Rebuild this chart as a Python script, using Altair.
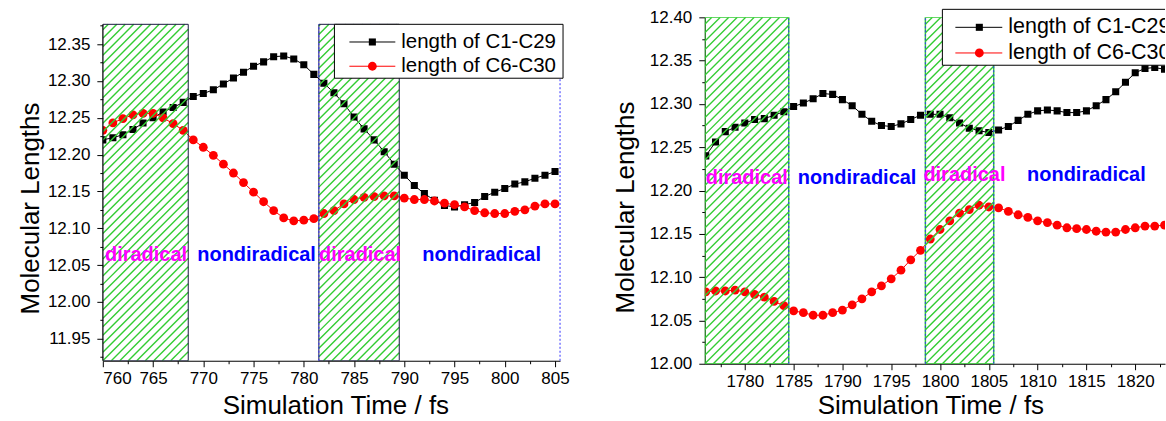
import altair as alt
import pandas as pd
import numpy as np

# ---------------- data ----------------
SERIES = ["length of C1-C29", "length of C6-C30"]

# left panel (760-805 fs)
TIME_A = list(range(760, 806))
C1C29_A = [12.220, 12.223, 12.227, 12.234, 12.243, 12.250, 12.258, 12.264, 12.271, 12.279,
           12.283, 12.288, 12.296, 12.304, 12.312, 12.320, 12.326, 12.333, 12.334, 12.330,
           12.322, 12.309, 12.297, 12.284, 12.269, 12.251, 12.235, 12.220, 12.204, 12.187,
           12.172, 12.158, 12.147, 12.138, 12.131, 12.129, 12.132, 12.135, 12.143, 12.149,
           12.154, 12.160, 12.163, 12.168, 12.172, 12.177]
C6C30_A = [12.233, 12.243, 12.249, 12.254, 12.256, 12.256, 12.250, 12.242, 12.233, 12.220,
           12.210, 12.199, 12.187, 12.175, 12.162, 12.149, 12.136, 12.124, 12.114, 12.110,
           12.111, 12.113, 12.120, 12.124, 12.133, 12.139, 12.142, 12.143, 12.144, 12.144,
           12.141, 12.139, 12.139, 12.137, 12.134, 12.132, 12.129, 12.124, 12.121, 12.120,
           12.120, 12.123, 12.125, 12.130, 12.133, 12.133]
REGIONS_A = [(760.0, 768.5), (781.5, 789.5)]
LABELS_A = ["diradical", "nondiradical", "diradical", "nondiradical"]
LABEL_X_A = [764.3, 775.3, 785.6, 797.7]
LABEL_Y_A = [12.055, 12.055, 12.055, 12.055]
XDOM_A = [760.0, 805.5]
YDOM_A = [11.92, 12.3865]
REGION_TOP_A = 12.377
XMAJOR_A = [760, 765, 770, 775, 780, 785, 790, 795, 800, 805]
XMINOR_A = [762.5, 767.5, 772.5, 777.5, 782.5, 787.5, 792.5, 797.5, 802.5]
YMAJOR_A = [11.95, 12.00, 12.05, 12.10, 12.15, 12.20, 12.25, 12.30, 12.35]
YMINOR_A = [11.925, 11.975, 12.025, 12.075, 12.125, 12.175, 12.225, 12.275, 12.325, 12.375]

# right panel (1776-1823 fs)
TIME_B = list(range(1776, 1824))
C1C29_B = [12.240, 12.256, 12.268, 12.273, 12.278, 12.282, 12.283, 12.287, 12.291, 12.297,
           12.301, 12.306, 12.312, 12.311, 12.305, 12.298, 12.288, 12.280, 12.275, 12.274,
           12.277, 12.282, 12.287, 12.288, 12.288, 12.284, 12.278, 12.272, 12.269, 12.267,
           12.270, 12.274, 12.281, 12.288, 12.292, 12.293, 12.292, 12.290, 12.290, 12.292,
           12.298, 12.305, 12.314, 12.325, 12.336, 12.341, 12.342, 12.340]
C6C30_B = [12.083, 12.084, 12.084, 12.085, 12.083, 12.080, 12.077, 12.072, 12.067, 12.061,
           12.059, 12.056, 12.056, 12.059, 12.062, 12.068, 12.075, 12.083, 12.090, 12.098,
           12.108, 12.120, 12.131, 12.144, 12.155, 12.165, 12.174, 12.178, 12.183, 12.181,
           12.180, 12.176, 12.172, 12.169, 12.165, 12.163, 12.160, 12.157, 12.156, 12.155,
           12.153, 12.152, 12.152, 12.155, 12.157, 12.159, 12.159, 12.160]
REGIONS_B = [(1775.9, 1784.5), (1798.5, 1805.5)]
LABELS_B = ["diradical", "nondiradical", "diradical", "nondiradical"]
LABEL_X_B = [1780.2, 1791.5, 1802.5, 1815.0]
LABEL_Y_B = [12.207, 12.207, 12.211, 12.211]
XDOM_B = [1775.9, 1823.05]
YDOM_B = [12.00, 12.40]
REGION_TOP_B = 12.40
XMAJOR_B = [1780, 1785, 1790, 1795, 1800, 1805, 1810, 1815, 1820]
XMINOR_B = [1777.5, 1782.5, 1787.5, 1792.5, 1797.5, 1802.5, 1807.5, 1812.5, 1817.5, 1822.5]
YMAJOR_B = [12.00, 12.05, 12.10, 12.15, 12.20, 12.25, 12.30, 12.35, 12.40]
YMINOR_B = [12.025, 12.075, 12.125, 12.175, 12.225, 12.275, 12.325, 12.375]

LABEL_COLORS = ["#FF00FF", "#0000FF", "#FF00FF", "#0000FF"]

# ---------------- styling ----------------
FONT = "Liberation Sans"
COLORS = ["#000000", "#FF0000"]
SHAPES = ["square", "circle"]
SIZES = [50, 78]
HATCH = "#33CC33"
DOT_BLUE = "#3333FF"


def hatch_df(regions, lo, hi, xdom, ydom, W, H, spacing=8.5):
    sx = W / (xdom[1] - xdom[0])
    sy = H / (ydom[1] - ydom[0])
    rows = []
    for a, b in regions:
        u0 = (a - xdom[0]) * sx
        u1 = (b - xdom[0]) * sx
        w0 = (lo - ydom[0]) * sy
        w1 = (hi - ydom[0]) * sy
        kmin = int(np.ceil((w0 - u1) / spacing))
        kmax = int(np.floor((w1 - u0) / spacing))
        for k in range(kmin, kmax + 1):
            c = k * spacing
            us = max(u0, w0 - c)
            ue = min(u1, w1 - c)
            if ue - us > 0.3:
                rows.append(dict(x=xdom[0] + us / sx, y=ydom[0] + (us + c) / sy,
                                 x2=xdom[0] + ue / sx, y2=ydom[0] + (ue + c) / sy))
    return pd.DataFrame(rows)


def x_axis(major, minor, title_x, title_y, lab_size, title_size):
    test = "datum.value % 5 == 0"
    return alt.Axis(values=major + minor, title="Simulation Time / fs", labelOverlap=False,
                    labelExpr=f"{test} ? format(datum.value, 'd') : ''",
                    tickSize={"condition": {"test": test, "value": 6}, "value": 3},
                    labelPadding=4, titleX=title_x, titleY=title_y,
                    labelFontSize=lab_size, titleFontSize=title_size,
                    titleAlign="center", titleBaseline="alphabetic")


def y_axis(major, minor, title_x, title_y, lab_size, title_size, domain=True):
    test = "abs(datum.value*20 - round(datum.value*20)) < 0.01"
    return alt.Axis(values=major + minor, title="Molecular Lengths", domain=domain,
                    labelOverlap=False,
                    labelExpr=f"{test} ? format(datum.value, '.2f') : ''",
                    tickSize={"condition": {"test": test, "value": 6}, "value": 3},
                    labelPadding=7, titleX=title_x, titleY=title_y, titleAngle=270,
                    labelFontSize=lab_size, titleFontSize=title_size,
                    titleAlign="center", titleBaseline="alphabetic")


def panel(times, s1, s2, xdom, ydom, W, H, regions, region_top, labels, lx, ly,
          xticks, yticks, axis_title_pos, region_stroke, region_sw, dotted_x,
          left_axis_rule, legend, sizes):
    lab_size, title_size, text_size, leg_size = sizes
    df = pd.DataFrame({
        "t": times * 2,
        "v": s1 + s2,
        "series": [SERIES[0]] * len(times) + [SERIES[1]] * len(times),
    })
    xs = alt.Scale(domain=xdom, nice=False, zero=False)
    ys = alt.Scale(domain=ydom, nice=False, zero=False)
    (xtx, xty), (ytx, yty) = axis_title_pos
    xax = x_axis(xticks[0], xticks[1], xtx, xty, lab_size, title_size)
    yax = y_axis(yticks[0], yticks[1], ytx, yty, lab_size, title_size, domain=not left_axis_rule)

    def XQ(f):
        return alt.X(f, scale=xs, axis=xax)

    def YQ(f):
        return alt.Y(f, scale=ys, axis=yax)

    col = alt.Color("series:N", scale=alt.Scale(domain=SERIES, range=COLORS), legend=None)
    shp = alt.Shape("series:N", scale=alt.Scale(domain=SERIES, range=SHAPES), legend=None)
    siz = alt.Size("series:N", scale=alt.Scale(domain=SERIES, range=SIZES), legend=None)

    base = alt.Chart(df)
    lines = base.mark_line(strokeWidth=1, clip=True).encode(
        x=XQ("t:Q"), y=YQ("v:Q"), color=col, detail="series:N")
    pts = base.mark_point(filled=True, opacity=1, clip=True).encode(
        x=XQ("t:Q"), y=YQ("v:Q"), color=col, shape=shp, size=siz)

    hd = hatch_df(regions, ydom[0], region_top, xdom, ydom, W, H)
    hatch = alt.Chart(hd).mark_rule(color=HATCH, strokeWidth=1.4, clip=True).encode(
        x=XQ("x:Q"), y=YQ("y:Q"), x2="x2:Q", y2="y2:Q")

    rd = pd.DataFrame({"a": [r[0] for r in regions], "b": [r[1] for r in regions],
                       "lo": [ydom[0]] * len(regions), "hi": [region_top] * len(regions)})
    outl = alt.Chart(rd).mark_rect(fillOpacity=0, stroke=region_stroke, strokeWidth=region_sw,
                                   clip=True).encode(
        x=XQ("a:Q"), x2="b:Q", y=YQ("lo:Q"), y2="hi:Q")

    dd = pd.DataFrame({"x": dotted_x, "lo": [ydom[0]] * len(dotted_x),
                       "hi": [region_top] * len(dotted_x)})
    dots = alt.Chart(dd).mark_rule(color=DOT_BLUE, strokeWidth=1, strokeDash=[2, 2]).encode(
        x=XQ("x:Q"), y=YQ("lo:Q"), y2="hi:Q")

    layers = [lines, pts, hatch, outl, dots]

    if left_axis_rule:
        ad = pd.DataFrame({"x": [xdom[0]], "lo": [ydom[0]], "hi": [region_top]})
        layers.append(alt.Chart(ad).mark_rule(color="black", strokeWidth=1).encode(
            x=XQ("x:Q"), y=YQ("lo:Q"), y2="hi:Q"))

    ld = pd.DataFrame({"label": labels, "x": lx, "y": ly, "c": LABEL_COLORS})
    txt = alt.Chart(ld).mark_text(font=FONT, fontSize=text_size, fontWeight="bold", align="center",
                                  baseline="alphabetic").encode(
        x=XQ("x:Q"), y=YQ("y:Q"), text="label:N",
        color=alt.Color("c:N", scale=None))
    layers.append(txt)

    # legend drawn inside the plot
    one = pd.DataFrame({"k": [0]})
    bx0, bx1, by0, by1, lx0, lx1, sxp, tx, eys, open_right = legend
    if open_right:
        layers.append(alt.Chart(one).mark_rect(fill="white").encode(
            x=alt.value(bx0), x2=alt.value(bx1), y=alt.value(by0), y2=alt.value(by1)))
        for (xa, xb, ya, yb) in [(bx0, bx1, by0, by0), (bx0, bx1, by1, by1), (bx0, bx0, by0, by1)]:
            layers.append(alt.Chart(one).mark_rule(color="black", strokeWidth=1).encode(
                x=alt.value(xa), x2=alt.value(xb), y=alt.value(ya), y2=alt.value(yb)))
    else:
        layers.append(alt.Chart(one).mark_rect(fill="white", stroke="black", strokeWidth=1).encode(
            x=alt.value(bx0), x2=alt.value(bx1), y=alt.value(by0), y2=alt.value(by1)))
    for k, name in enumerate(SERIES):
        ey = eys[k]
        layers.append(alt.Chart(one).mark_rule(color=COLORS[k], strokeWidth=1).encode(
            x=alt.value(lx0), x2=alt.value(lx1), y=alt.value(ey)))
        layers.append(alt.Chart(one).mark_point(filled=True, size=SIZES[k], opacity=1,
                                                shape=SHAPES[k], color=COLORS[k]).encode(
            x=alt.value(sxp), y=alt.value(ey)))
        layers.append(alt.Chart(one).mark_text(font=FONT, fontSize=leg_size, align="left",
                                               baseline="middle", color="black",
                                               clip=True).encode(
            x=alt.value(tx), y=alt.value(ey), text=alt.value(name)))

    return alt.layer(*layers).properties(width=W, height=H)


left = panel(TIME_A, C1C29_A, C6C30_A, XDOM_A, YDOM_A, 458, 344, REGIONS_A, REGION_TOP_A,
             LABELS_A, LABEL_X_A, LABEL_Y_A, (XMAJOR_A, XMINOR_A), (YMAJOR_A, YMINOR_A),
             ((233, 53), (-64, 191)), "#1a1a40", 1,
             [REGIONS_A[1][0], XDOM_A[1]], True,
             (232, 461, 7, 61, 247, 293, 270, 299, [24.7, 49], False),
             (17, 26, 20, 20.5))

right = panel(TIME_B, C1C29_B, C6C30_B, XDOM_B, YDOM_B, 461, 347, REGIONS_B, REGION_TOP_B,
              LABELS_B, LABEL_X_B, LABEL_Y_B, (XMAJOR_B, XMINOR_B), (YMAJOR_B, YMINOR_B),
              ((226, 50), (-71, 190)), HATCH, 1.5,
              [REGIONS_B[0][1], REGIONS_B[1][0], REGIONS_B[1][1]], False,
              (238, 461, -8, 48, 251, 298, 275, 304, [10, 35.7], True),
              (17, 26, 20, 21.5))

chart = alt.hconcat(left, right, spacing=145, bounds="flush").configure_view(
    stroke=None
).configure_axis(
    grid=False, domainColor="black", tickColor="black", labelColor="black",
    titleColor="black", labelFont=FONT, titleFont=FONT,
    titleFontWeight="normal", domainWidth=1, tickWidth=1
).properties(
    padding={"left": 18, "top": 8, "right": 0, "bottom": 0}
)

chart.save("out.html", embed_options={"renderer": "svg", "actions": False})
